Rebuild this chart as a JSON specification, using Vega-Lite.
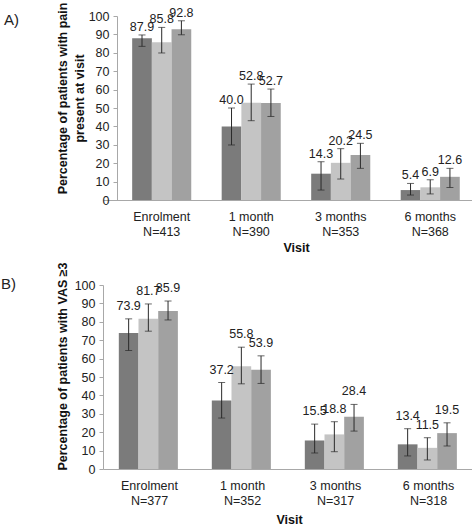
{
  "$schema": "https://vega.github.io/schema/vega-lite/v6.json",
  "padding": {"left": 0, "top": 2, "right": 0, "bottom": 0},
  "autosize": {"type": "pad"},
  "background": "white",
  "config": {
    "view": {"stroke": null},
    "font": "Liberation Sans",
    "axis": {
      "grid": false,
      "domainColor": "#a8a8a8",
      "tickColor": "#a8a8a8",
      "labelColor": "#222222",
      "titleColor": "#111111",
      "labelFont": "Liberation Sans",
      "titleFont": "Liberation Sans",
      "labelFontSize": 12.5,
      "titleFontSize": 12.5,
      "titleFontWeight": "bold",
      "labelOverlap": false,
      "labelFlush": false
    },
    "title": {"font": "Liberation Sans", "fontSize": 15, "fontWeight": "normal", "color": "#222222"}
  },
  "datasets": {
    "panelA": [
      {"visit": "Enrolment\nN=413", "series": "S1", "pct": 87.9, "lo": 83.5, "hi": 89.7},
      {"visit": "Enrolment\nN=413", "series": "S2", "pct": 85.8, "lo": 79.9, "hi": 93.8},
      {"visit": "Enrolment\nN=413", "series": "S3", "pct": 92.8, "lo": 89.8, "hi": 97.4},
      {"visit": "1 month\nN=390", "series": "S1", "pct": 40.0, "lo": 29.9, "hi": 50.0},
      {"visit": "1 month\nN=390", "series": "S2", "pct": 52.8, "lo": 43.1, "hi": 63.0},
      {"visit": "1 month\nN=390", "series": "S3", "pct": 52.7, "lo": 45.4, "hi": 60.3},
      {"visit": "3 months\nN=353", "series": "S1", "pct": 14.3, "lo": 5.4, "hi": 20.8},
      {"visit": "3 months\nN=353", "series": "S2", "pct": 20.2, "lo": 11.4, "hi": 27.9},
      {"visit": "3 months\nN=353", "series": "S3", "pct": 24.5, "lo": 17.2, "hi": 30.8},
      {"visit": "6 months\nN=368", "series": "S1", "pct": 5.4, "lo": 2.7, "hi": 9.0},
      {"visit": "6 months\nN=368", "series": "S2", "pct": 6.9, "lo": 3.3, "hi": 11.0},
      {"visit": "6 months\nN=368", "series": "S3", "pct": 12.6, "lo": 6.8, "hi": 17.2}
    ],
    "panelB": [
      {"visit": "Enrolment\nN=377", "series": "S1", "pct": 73.9, "lo": 64.4, "hi": 81.6},
      {"visit": "Enrolment\nN=377", "series": "S2", "pct": 81.7, "lo": 74.9, "hi": 89.7},
      {"visit": "Enrolment\nN=377", "series": "S3", "pct": 85.9, "lo": 81.0, "hi": 91.3},
      {"visit": "1 month\nN=352", "series": "S1", "pct": 37.2, "lo": 27.7, "hi": 47.0},
      {"visit": "1 month\nN=352", "series": "S2", "pct": 55.8, "lo": 46.3, "hi": 66.2},
      {"visit": "1 month\nN=352", "series": "S3", "pct": 53.9, "lo": 46.5, "hi": 61.5},
      {"visit": "3 months\nN=317", "series": "S1", "pct": 15.5, "lo": 8.7, "hi": 24.4},
      {"visit": "3 months\nN=317", "series": "S2", "pct": 18.8, "lo": 9.4, "hi": 25.7},
      {"visit": "3 months\nN=317", "series": "S3", "pct": 28.4, "lo": 20.6, "hi": 35.1},
      {"visit": "6 months\nN=318", "series": "S1", "pct": 13.4, "lo": 7.1, "hi": 21.9},
      {"visit": "6 months\nN=318", "series": "S2", "pct": 11.5, "lo": 4.9, "hi": 17.0},
      {"visit": "6 months\nN=318", "series": "S3", "pct": 19.5, "lo": 12.5, "hi": 25.1}
    ]
  },
  "columns": 1,
  "align": "none",
  "spacing": 7,
  "concat": [
    {
      "title": {"text": "A)", "anchor": "start", "frame": "bounds", "orient": "top", "offset": 0, "dx": -52, "dy": 26},
      "width": 372,
      "height": 184,
      "data": {"name": "panelA"},
      "resolve": {"axis": {"y": "independent"}},
      "encoding": {
        "x": {
          "field": "visit", "type": "nominal", "sort": null,
          "scale": {"paddingInner": 0.34, "paddingOuter": 0.248, "align": 0.657},
          "axis": {
            "title": "Visit", "labelAngle": 0, "ticks": false, "tickSize": 0, "labelPadding": 10,
            "labelLineHeight": 15.5, "labelExpr": "split(datum.label, '\\n')",
            "titleX": 193, "titleY": 47, "titleBaseline": "middle"
          }
        },
        "xOffset": {"field": "series", "type": "nominal", "sort": null, "scale": {"paddingInner": 0, "paddingOuter": 0}}
      },
      "layer": [
        {
          "mark": {"type": "bar"},
          "encoding": {
            "y": {
              "field": "pct", "type": "quantitative", "scale": {"domain": [0, 100]},
              "axis": {
                "title": ["Percentage of patients with pain", "present at visit"],
                "values": [0, 10, 20, 30, 40, 50, 60, 70, 80, 90, 100],
                "offset": -14,
                "tickSize": 4, "labelPadding": 4,
                "titleX": -55, "titleY": 82, "titleAlign": "center", "titleBaseline": "middle", "titleAngle": -90,
                "titleLineHeight": 17
              }
            },
            "color": {"field": "series", "type": "nominal", "legend": null, "scale": {"domain": ["S1", "S2", "S3"], "range": ["#7b7b7b", "#c4c4c4", "#a1a1a1"]}}
          }
        },
        {
          "mark": {"type": "rule", "color": "#2a2a2a", "strokeWidth": 1},
          "encoding": {"y": {"field": "lo", "type": "quantitative", "axis": null}, "y2": {"field": "hi"}}
        },
        {
          "mark": {"type": "tick", "color": "#2a2a2a", "size": 7, "thickness": 1},
          "encoding": {"y": {"field": "lo", "type": "quantitative", "axis": null}}
        },
        {
          "mark": {"type": "tick", "color": "#2a2a2a", "size": 7, "thickness": 1},
          "encoding": {"y": {"field": "hi", "type": "quantitative", "axis": null}}
        },
        {
          "mark": {"type": "text", "baseline": "bottom", "dy": -1, "fontSize": 12.5, "color": "#222222", "font": "Liberation Sans"},
          "encoding": {"y": {"field": "hi", "type": "quantitative", "axis": null}, "text": {"field": "pct", "type": "quantitative", "format": ".1f"}}
        }
      ]
    },
    {
      "title": {"text": "B)", "anchor": "start", "frame": "bounds", "orient": "top", "offset": 0, "dx": -55, "dy": 30},
      "width": 372,
      "height": 184,
      "data": {"name": "panelB"},
      "resolve": {"axis": {"y": "independent"}},
      "encoding": {
        "x": {
          "field": "visit", "type": "nominal", "sort": null,
          "scale": {"paddingInner": 0.34, "paddingOuter": 0.17},
          "axis": {
            "title": "Visit", "labelAngle": 0, "ticks": false, "tickSize": 0, "labelPadding": 10,
            "labelLineHeight": 15.5, "labelExpr": "split(datum.label, '\\n')",
            "titleY": 50, "titleBaseline": "middle"
          }
        },
        "xOffset": {"field": "series", "type": "nominal", "sort": null, "scale": {"paddingInner": 0, "paddingOuter": 0}}
      },
      "layer": [
        {
          "mark": {"type": "bar"},
          "encoding": {
            "y": {
              "field": "pct", "type": "quantitative", "scale": {"domain": [0, 100]},
              "axis": {
                "title": "Percentage of patients with VAS ≥3",
                "values": [0, 10, 20, 30, 40, 50, 60, 70, 80, 90, 100],
                "tickSize": 4, "labelPadding": 4,
                "titleX": -41, "titleY": 81, "titleAlign": "center", "titleBaseline": "middle", "titleAngle": -90
              }
            },
            "color": {"field": "series", "type": "nominal", "legend": null, "scale": {"domain": ["S1", "S2", "S3"], "range": ["#7b7b7b", "#c4c4c4", "#a1a1a1"]}}
          }
        },
        {
          "mark": {"type": "rule", "color": "#2a2a2a", "strokeWidth": 1},
          "encoding": {"y": {"field": "lo", "type": "quantitative", "axis": null}, "y2": {"field": "hi"}}
        },
        {
          "mark": {"type": "tick", "color": "#2a2a2a", "size": 7, "thickness": 1},
          "encoding": {"y": {"field": "lo", "type": "quantitative", "axis": null}}
        },
        {
          "mark": {"type": "tick", "color": "#2a2a2a", "size": 7, "thickness": 1},
          "encoding": {"y": {"field": "hi", "type": "quantitative", "axis": null}}
        },
        {
          "mark": {"type": "text", "baseline": "bottom", "dy": -6, "fontSize": 12.5, "color": "#222222", "font": "Liberation Sans"},
          "encoding": {"y": {"field": "hi", "type": "quantitative", "axis": null}, "text": {"field": "pct", "type": "quantitative", "format": ".1f"}}
        }
      ]
    }
  ]
}
